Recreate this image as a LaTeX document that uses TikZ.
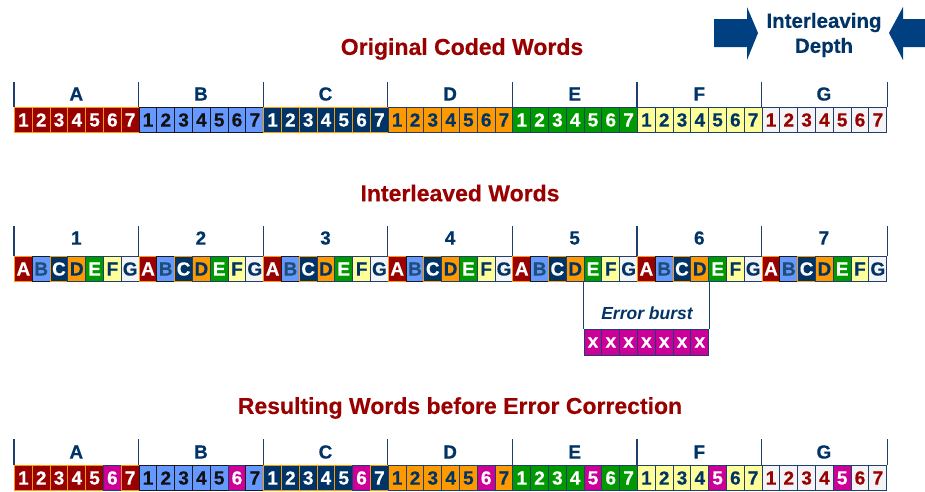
\documentclass[tikz,border=0pt]{standalone}
\usepackage{fontspec}
\setmainfont{Liberation Sans}
\newfontfamily\heavyfont{Liberation Sans}[BoldFeatures={FakeBold=0.4}]
\definecolor{f1}{HTML}{990000}
\definecolor{f2}{HTML}{6699FF}
\definecolor{f3}{HTML}{003366}
\definecolor{f4}{HTML}{FF9900}
\definecolor{f5}{HTML}{009900}
\definecolor{f6}{HTML}{FFFF99}
\definecolor{f7}{HTML}{F4F4F6}
\definecolor{t1}{HTML}{FFFFFF}
\definecolor{t2}{HTML}{111111}
\definecolor{t3}{HTML}{FFFFFF}
\definecolor{t4}{HTML}{003366}
\definecolor{t5}{HTML}{FFFFFF}
\definecolor{t6}{HTML}{003366}
\definecolor{t7}{HTML}{990000}
\definecolor{i1}{HTML}{FFFFFF}
\definecolor{i2}{HTML}{1F4E79}
\definecolor{i3}{HTML}{FFFFFF}
\definecolor{i4}{HTML}{003366}
\definecolor{i5}{HTML}{FFFFFF}
\definecolor{i6}{HTML}{003366}
\definecolor{i7}{HTML}{003366}
\definecolor{b1}{HTML}{FF9900}
\definecolor{b2}{HTML}{1A1A1A}
\definecolor{b3}{HTML}{FF9900}
\definecolor{b4}{HTML}{1F3F6F}
\definecolor{b5}{HTML}{1F3F6F}
\definecolor{b6}{HTML}{1F3F6F}
\definecolor{b7}{HTML}{1F3F6F}
\definecolor{mag}{HTML}{CC0099}
\definecolor{navy}{HTML}{003366}
\definecolor{arrowblue}{HTML}{004080}
\definecolor{titlered}{HTML}{990000}
\definecolor{brkc}{HTML}{1F3F6F}
\tikzset{
  cell/.style={draw, line width=1pt, minimum width=17.8pt, minimum height=25pt,
    inner sep=0pt, anchor=north west, font=\heavyfont\bfseries\fontsize{19}{19}\selectfont},
  wcell/.style={fill=f#1, draw=b#1, text=t#1},
  icell/.style={fill=f#1, draw=b#1, text=i#1},
  errcell/.style={fill=mag, draw=brkc, text=white},
  lbl/.style={text=navy, font=\heavyfont\bfseries\fontsize{19}{19}\selectfont, inner sep=0pt},
  ttl/.style={text=titlered, font=\heavyfont\bfseries\fontsize{23}{23}\selectfont, inner sep=0pt},
  brk/.style={draw=brkc, line width=1.2pt},
  bigarrow/.style={fill=arrowblue, draw=none}
}
\begin{document}
\begin{tikzpicture}[x=1pt, y=-1pt]
\useasboundingbox (0,0) rectangle (925,491);

% titles
\node[ttl] (t1) at (462,49) {Original Coded Words};
\node[ttl] (t2) at (460,193) {Interleaved Words};
\node[ttl] (t3) at (460,408) {Resulting Words before Error Correction};

% interleaving depth
\node[text=navy, font=\heavyfont\bfseries\fontsize{20.5}{25}\selectfont, align=center, inner sep=0pt] (depth) at (824,35) {Interleaving\\Depth};
\path[bigarrow] (714,19) -- (747,19) -- (747,7) -- (758,33) -- (747,60) -- (747,47) -- (714,47) -- cycle;
\path[bigarrow] (926,19) -- (903,19) -- (903,7) -- (889,33) -- (903,60) -- (903,47) -- (926,47) -- cycle;

% original coded words
\foreach \w/\L in {1/A,2/B,3/C,4/D,5/E,6/F,7/G}{
  \foreach \p in {1,...,7}{
    \pgfmathsetmacro\xx{14+((\w-1)*7+\p-1)*17.8}
    \node[cell, wcell=\w] (o\w-\p) at (\xx,107) {\p};
  }
  \node[lbl] (ol\w) at ({14+(\w-0.5)*124.6},94) {\L};
  \draw[brk] (o\w-1.north west) -- ++(0,-25);
}
\draw[brk] (o7-7.north east) -- ++(0,-25);

% interleaved words
\foreach \g in {1,...,7}{
  \foreach \w/\L in {1/A,2/B,3/C,4/D,5/E,6/F,7/G}{
    \pgfmathsetmacro\xx{14+((\g-1)*7+\w-1)*17.8}
    \node[cell, icell=\w] (i\g-\w) at (\xx,256) {\L};
  }
  \node[lbl] (il\g) at ({14+(\g-0.5)*124.6},238) {\g};
  \draw[brk] (i\g-1.north west) -- ++(0,-30);
}
\draw[brk] (i7-7.north east) -- ++(0,-30);

% error burst
\foreach \k in {1,...,7}{
  \pgfmathsetmacro\xx{14+(32+\k-1)*17.8}
  \node[cell, errcell, minimum height=26pt] (x\k) at (\xx,329) {x};
}
\draw[brk] (i5-5.south west) -- (x1.north west);
\draw[brk] (i6-4.south east) -- (x7.north east);
\node[text=navy, font=\heavyfont\bfseries\itshape\fontsize{17.5}{17.5}\selectfont, inner sep=0pt] (eb) at (647,313) {Error burst};

% resulting words
\foreach \w/\L in {1/A,2/B,3/C,4/D,5/E,6/F,7/G}{
  \foreach \p in {1,...,7}{
    \pgfmathsetmacro\xx{14+((\w-1)*7+\p-1)*17.8}
    \pgfmathtruncatemacro\err{((\w<5)&&(\p==6))||((\w>4)&&(\p==5))}
    \ifnum\err=1
      \node[cell, errcell] (r\w-\p) at (\xx,465) {\p};
    \else
      \node[cell, wcell=\w] (r\w-\p) at (\xx,465) {\p};
    \fi
  }
  \node[lbl] (rl\w) at ({14+(\w-0.5)*124.6},452) {\L};
  \draw[brk] (r\w-1.north west) -- ++(0,-26);
}
\draw[brk] (r7-7.north east) -- ++(0,-26);
\end{tikzpicture}
\end{document}
